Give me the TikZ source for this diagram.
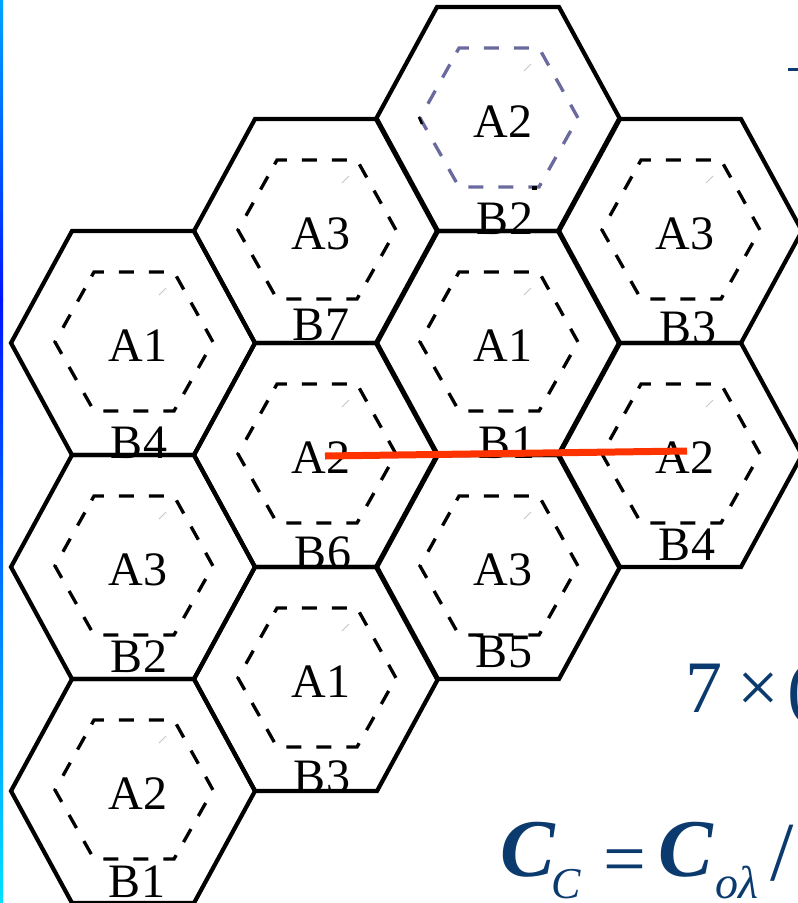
\documentclass[tikz,border=0pt]{standalone}
\usepackage{fontspec}
\setmainfont{Liberation Serif}
\definecolor{eqblue}{HTML}{0B3A6E}
\definecolor{slate}{HTML}{6A6A9F}
\definecolor{redstroke}{HTML}{FF3300}
\tikzset{
  outerhex/.style={line width=4.2pt, line join=miter},
  innerhex/.style={line width=3.3pt, dash pattern=on 15pt off 15pt},
  alabel/.style={inner sep=0pt, font=\fontsize{48}{50}\selectfont},
  blabel/.style={inner sep=0pt, anchor=base, font=\fontsize{48}{50}\selectfont},
  eqbig/.style={inner sep=0pt, anchor=base west, text=eqblue, font=\fontsize{82}{86}\selectfont},
  eqsub/.style={inner sep=0pt, anchor=base west, text=eqblue, font=\fontsize{44}{48}\selectfont\itshape},
  redline/.style={draw=redstroke, line width=7pt}
}
\newcommand{\hexcell}[5]{%
  \begin{scope}[shift={(#1,#2)}]
    \draw[outerhex] (-122,0) -- (-61,-112) -- (61,-112) -- (122,0) -- (61,112) -- (-61,112) -- cycle;
    \draw[innerhex, draw=#5] (-41.4,-66.6) -- (-39,-71) -- (41,-71) -- (80,-1) -- (41,68) -- (-39,68) -- (-78,-1) -- (-41.4,-66.6);
    \draw[black!22, line width=1pt] (26,-48) -- (33,-55);
    \node[alabel] (#4) at (5,3) {#3};
  \end{scope}}
\begin{document}
\begin{tikzpicture}[x=1pt, y=-1pt]
  \useasboundingbox (0,0) rectangle (798,903);
  \fill[white] (0,0) rectangle (798,903);
  % left edge bar
  \shade[top color={rgb,255:red,0;green,165;blue,255}, bottom color={rgb,255:red,0;green,20;blue,255}] (0,0) rectangle (3,300);
  \shade[top color={rgb,255:red,0;green,20;blue,255}, bottom color={rgb,255:red,0;green,225;blue,255}] (0,300) rectangle (3,903);

  % cells
  \hexcell{133}{343}{A1}{c11}{black}
  \hexcell{133}{567}{A3}{c12}{black}
  \hexcell{133}{791}{A2}{c13}{black}
  \hexcell{316}{231}{A3}{c21}{black}
  \hexcell{316}{455}{A2}{c22}{black}
  \hexcell{316}{679}{A1}{c23}{black}
  \hexcell{498}{119}{A2}{c31}{slate}
  \hexcell{498}{343}{A1}{c32}{black}
  \hexcell{498}{567}{A3}{c33}{black}
  \hexcell{680}{231}{A3}{c41}{black}
  \hexcell{680}{455}{A2}{c42}{black}
  % small black remnants under the slate dashed outline
  \fill[black] (532,186) rectangle (537,190);
  \draw[black, line width=2.5pt] (419,117) -- (422,124);

  % B labels
  \node[blabel] (b31) at (505,234) {B2};
  \node[blabel] (b21) at (321,340) {B7};
  \node[blabel] (b41) at (688,343) {B3};
  \node[blabel] (b11) at (139,458) {B4};
  \node[blabel] (b32) at (507,458) {B1};
  \node[blabel] (b42) at (687,560) {B4};
  \node[blabel] (b22) at (323,568) {B6};
  \node[blabel] (b12) at (139,672) {B2};
  \node[blabel] (b33) at (504,667) {B5};
  \node[blabel] (b23) at (322,792) {B3};
  \node[blabel] (b13) at (137,897) {B1};

  % red line
  \coordinate (r1) at (325,456);
  \coordinate (r2) at (687,451);
  \draw[redline] (r1) -- (r2);

  % right-side formula fragments
  \node[inner sep=0pt, anchor=base west, text=eqblue, font=\fontsize{60}{64}\selectfont] (one) at (794,43) {1};
  \coordinate (barL) at (788,69);
  \coordinate (barR) at (830,69);
  \draw[eqblue, line width=3pt] (barL) -- (barR);

  \node[inner sep=0pt, anchor=base west, text=eqblue, font=\fontsize{74}{78}\selectfont] (seven) at (685,712) {7};
  \node[inner sep=0pt, anchor=base west, text=eqblue, font=\fontsize{74}{78}\selectfont] (times) at (737,712) {×};
  \node[inner sep=0pt, anchor=base west, text=eqblue, font=\fontsize{74}{78}\selectfont] (paren) at (787,712) {(};

  \node[eqbig] (cc) at (500,876) {\textbf{\textit{C}}};
  \node[eqsub] (ccs) at (551,898) {C};
  \node[eqbig, font=\fontsize{76}{80}\selectfont] (eq) at (603,884) {=};
  \node[eqbig] (co) at (658,876) {\textbf{\textit{C}}};
  \node[eqsub, font=\fontsize{46}{50}\selectfont\itshape] (cos) at (715,898) {oλ};
  \node[eqbig, font=\fontsize{84}{88}\selectfont] (slash) at (770,880) {/};
\end{tikzpicture}
\end{document}
